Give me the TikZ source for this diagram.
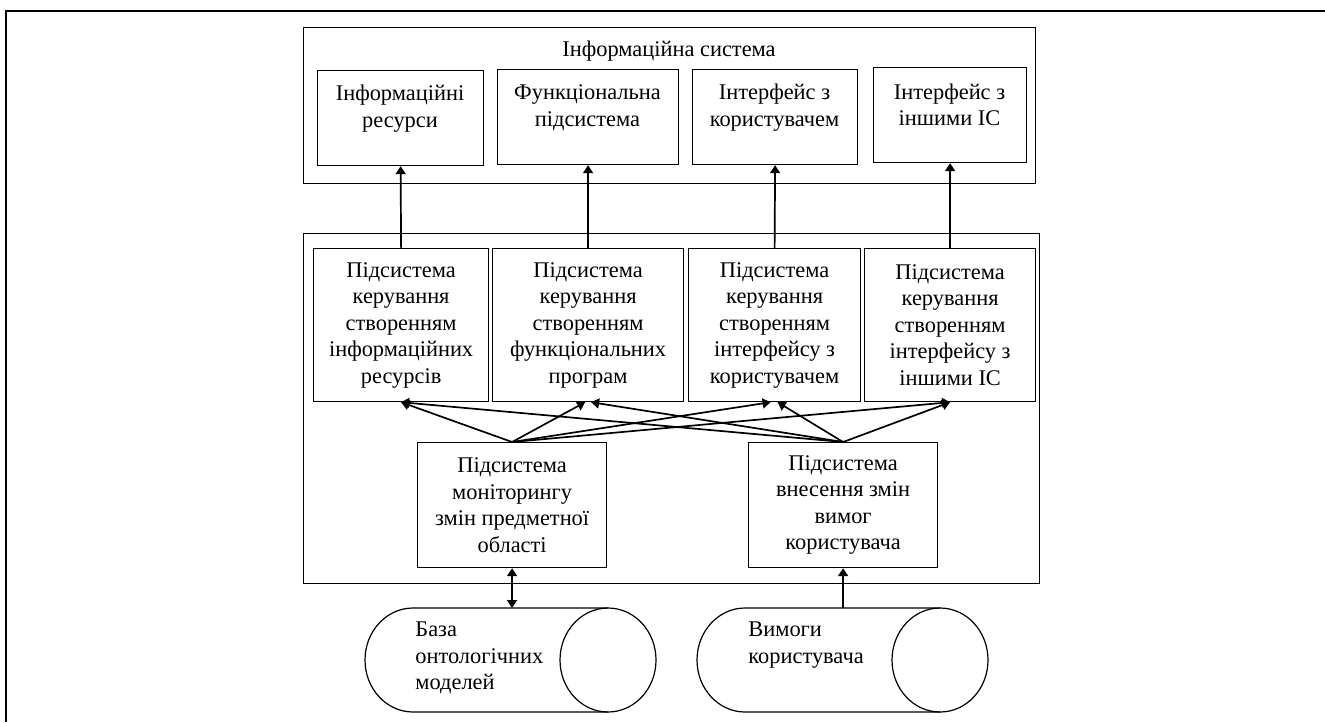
\documentclass[tikz,border=0pt]{standalone}
\usepackage{fontspec}
\setmainfont{Liberation Serif}
\usetikzlibrary{arrows.meta}
\newcommand\mybox[6]{\node[boxs, anchor=north west, minimum width={(#4-#2)*0.5pt}, minimum height={(#5-#3)*0.5pt}] (#1) at (#2,#3) {#6};}
\begin{document}
\begin{tikzpicture}[x=0.5pt,y=-0.5pt,
  boxs/.style={draw, line width=0.6pt, rectangle, inner sep=0pt, align=center, font=\fontsize{11.2}{13.25}\selectfont},
  txt/.style={inner sep=0pt, align=center, font=\fontsize{11.2}{13.25}\selectfont},
  ltxt/.style={inner sep=0pt, align=left, font=\fontsize{11.2}{13.25}\selectfont},
  arr/.style={line width=0.85pt, -{Triangle[length=4pt,width=5pt]}},
  darr/.style={line width=0.85pt, {Triangle[length=4pt,width=5pt]}-{Triangle[length=4pt,width=5pt]}},
  cyl/.style={line width=0.6pt},
  frame/.style={line width=1pt}]
\useasboundingbox (0,0) rectangle (1325,722);
\draw[frame] (6,722) -- (6,11) -- (1325,11);

% top system
\mybox{TOP}{303}{27}{1035}{183}{}
\node[txt] (TOPt) at (669,51) {Інформаційна система};
\mybox{B1}{317}{70}{483}{165}{}
\mybox{B2}{497}{69}{678}{164}{}
\mybox{B3}{692}{69}{857}{164}{}
\mybox{B4}{873}{67}{1026}{162}{}
\node[txt] (B1t) at (400,108.5) {\strut Інформаційні\\\strut ресурси};
\node[txt] (B2t) at (587.5,107.5) {\strut Функціональна\\\strut підсистема};
\node[txt] (B3t) at (774.5,107.5) {\strut Інтерфейс з\\\strut користувачем};
\node[txt] (B4t) at (949.5,107) {\strut Інтерфейс з\\\strut іншими ІС};

% middle
\mybox{MID}{303}{233}{1039}{583}{}
\mybox{S1}{313}{248}{488}{401}{Підсистема\\керування\\створенням\\інформаційних\\ресурсів}
\mybox{S2}{492}{248}{683}{401}{Підсистема\\керування\\створенням\\функціональних\\програм}
\mybox{S3}{688}{248}{860}{401}{Підсистема\\керування\\створенням\\інтерфейсу з\\користувачем}
\mybox{S4}{864}{248}{1035}{401}{Підсистема\\керування\\створенням\\інтерфейсу з\\іншими ІС}
\mybox{L}{417}{442}{606}{567}{Підсистема\\моніторингу\\змін предметної\\області}
\mybox{R}{748}{442}{937}{567}{Підсистема\\внесення змін\\вимог\\користувача}

\draw[arr] (S1.north) -- (B1.south);
\draw[arr] (S2.north) -- (B2.south);
\draw[arr] (S3.north) -- (B3.south);
\draw[arr] (S4.north) -- (B4.south);

\draw[arr] (L.north) -- (S1.south);
\draw[arr] (L.north) -- ([xshift=-1.5pt]S2.south);
\draw[arr] (L.north) -- ([xshift=-2pt]S3.south);
\draw[arr] (L.north) -- (S4.south);
\draw[arr] (R.north) -- (S1.south);
\draw[arr] (R.north) -- ([xshift=1.5pt]S2.south);
\draw[arr] (R.north) -- ([xshift=1.5pt]S3.south);
\draw[arr] (R.north) -- (S4.south);

% cylinders
\draw[cyl] (608,608) -- (413,608) arc[start angle=90, end angle=270, x radius=24pt, y radius=26pt] -- (608,712);
\draw[cyl] (608,660) ellipse [x radius=24pt, y radius=26pt];
\draw[cyl] (940,608) -- (745,608) arc[start angle=90, end angle=270, x radius=24pt, y radius=26pt] -- (940,712);
\draw[cyl] (940,660) ellipse [x radius=24pt, y radius=26pt];
\coordinate (cylL) at (512,608);
\coordinate (cylR) at (843,608);
\node[ltxt, anchor=west] (cylLt) at (415,658) {База\\онтологічних\\моделей};
\node[ltxt, anchor=west] (cylRt) at (748,645) {Вимоги\\користувача};

\draw[darr] (L.south) -- (cylL);
\draw[arr] (cylR) -- (R.south);
\end{tikzpicture}
\end{document}
